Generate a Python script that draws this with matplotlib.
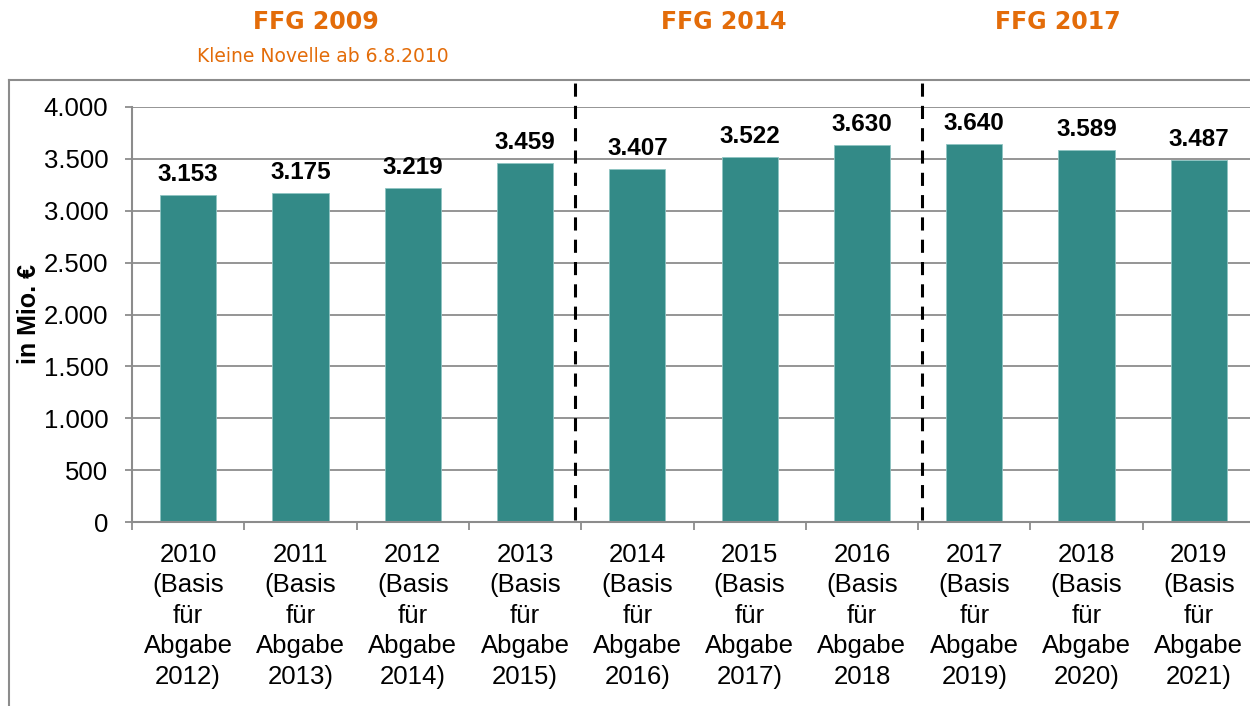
import numpy as np
import matplotlib
matplotlib.use('Agg')
import matplotlib.pyplot as plt
from matplotlib.lines import Line2D
from matplotlib.ticker import FuncFormatter

# data
years = ['2010', '2011', '2012', '2013', '2014', '2015', '2016', '2017', '2018', '2019']
abgabe = ['2012)', '2013)', '2014)', '2015)', '2016)', '2017)', '2018', '2019)', '2020)', '2021)']
values = [3153, 3175, 3219, 3459, 3407, 3522, 3630, 3640, 3589, 3487]
value_labels = ['3.153', '3.175', '3.219', '3.459', '3.407', '3.522', '3.630', '3.640', '3.589', '3.487']
yticks = [0, 500, 1000, 1500, 2000, 2500, 3000, 3500, 4000]
period_breaks = [3.445, 6.535]
headers = ['FFG 2009', 'FFG 2014', 'FFG 2017']
subheader = 'Kleine Novelle ab 6.8.2010'

labels = [y + '\n(Basis\nfür\nAbgabe\n' + a for y, a in zip(years, abgabe)]

bar_col = '#338A87'
grid_col = '#8c8c8c'
orange = '#E36C09'

plt.rcParams['font.family'] = ['Liberation Sans', 'DejaVu Sans']

fig = plt.figure(figsize=(12.5, 7.06), dpi=100)
ax = fig.add_axes([132/1250, 1 - 522/706, 1123/1250, 415/706])

x = np.arange(len(values))
ax.bar(x, values, width=0.5, color=bar_col, edgecolor='#8fc4c2', linewidth=0.6, zorder=2)
for xi, v, lab in zip(x, values, value_labels):
    ax.annotate(lab, (xi, v), xytext=(0, 10), textcoords='offset points',
                ha='center', va='baseline', fontsize=17.5, fontweight='bold', zorder=3)

ax.set_xlim(-0.5, len(values) - 0.5)
ax.set_ylim(0, 4000)
ax.set_yticks(yticks)
ax.yaxis.set_major_formatter(FuncFormatter(lambda v, p: f'{int(v):,}'.replace(',', '.')))
ax.grid(axis='y', color=grid_col, lw=1.3, zorder=0)
ax.set_axisbelow(True)

ax.set_xticks(x)
ax.set_xticklabels(labels, fontsize=18.5, linespacing=1.34)
ax.set_xticks(np.arange(-0.5, len(values)), minor=True)
ax.tick_params(axis='x', which='major', length=0, pad=15)
ax.tick_params(axis='x', which='minor', length=6, width=1.3, color=grid_col)
ax.tick_params(axis='y', length=5, width=1.3, color=grid_col, labelsize=18.5, pad=12)

for s in ['top', 'right']:
    ax.spines[s].set_visible(False)
for s in ['left', 'bottom']:
    ax.spines[s].set_color(grid_col)
    ax.spines[s].set_linewidth(1.5)

# dashed period separators
trans = ax.get_xaxis_transform()
for b in period_breaks:
    ax.plot([b, b], [0.005, 1.065], transform=trans, color='black', lw=2.2,
            dashes=(4.3, 3), clip_on=False, zorder=4)

fig.text(29/1250, 1 - 314/706, 'in Mio. €', rotation=90, ha='center', va='center',
         fontsize=18, fontweight='bold')

# headers
for h, cx in zip(headers, [316, 724, 1058]):
    fig.text(cx/1250, 1 - 22/706, h, ha='center', va='center', color=orange,
             fontsize=17, fontweight='bold', family='DejaVu Sans')
fig.text(323/1250, 1 - 57/706, subheader, ha='center', va='center', color=orange,
         fontsize=13.5, family='DejaVu Sans')

# outer frame
fig.add_artist(Line2D([8.5/1250, 8.5/1250], [1 - 705/706, 1 - 80/706], color=grid_col, lw=1.5))
fig.add_artist(Line2D([8.5/1250, 1.0], [1 - 80/706, 1 - 80/706], color=grid_col, lw=1.5))

fig.savefig('out.png', dpi=100)
